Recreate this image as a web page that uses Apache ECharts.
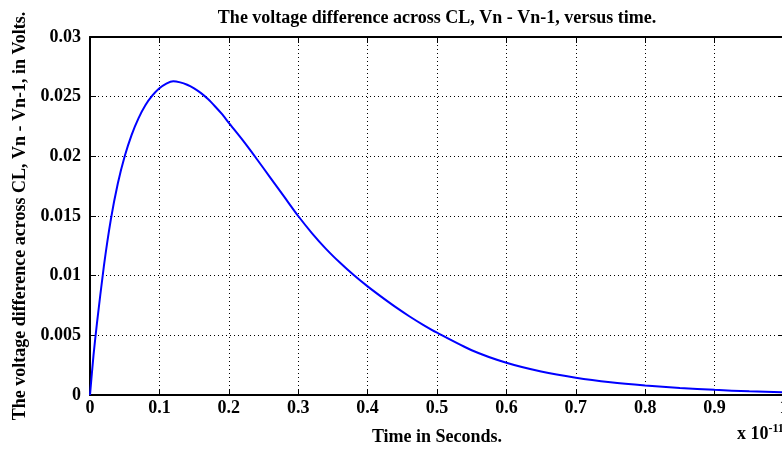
<!DOCTYPE html>
<html>
<head>
<meta charset="utf-8">
<script src="https://cdn.jsdelivr.net/npm/echarts@6/dist/echarts.min.js"></script>
<style>
html,body{margin:0;padding:0;background:#fff;}
#chart{width:782px;height:450px;}
</style>
</head>
<body>
<div id="chart"></div>
<script>
// Time values (units of 1e-11 s) and voltage difference (V)
var timeVals = [0, 0.005, 0.01, 0.02, 0.03, 0.04, 0.05, 0.06, 0.07, 0.08, 0.09, 0.10, 0.11, 0.12, 0.13, 0.14, 0.15, 0.16, 0.17, 0.18, 0.19, 0.20, 0.22, 0.24, 0.26, 0.28, 0.30, 0.32, 0.34, 0.36, 0.38, 0.40, 0.42, 0.44, 0.46, 0.48, 0.50, 0.55, 0.60, 0.65, 0.70, 0.75, 0.80, 0.85, 0.90, 0.95, 1.00];
var voltVals = [0, 0.0033, 0.0060, 0.0108, 0.0147, 0.0177, 0.0200, 0.0218, 0.0232, 0.0243, 0.0251, 0.0257, 0.0261, 0.0263, 0.0262, 0.0260, 0.0257, 0.0253, 0.0248, 0.0242, 0.02355, 0.0228, 0.02135, 0.0198, 0.0182, 0.0166, 0.0150, 0.01355, 0.01225, 0.0111, 0.01005, 0.0091, 0.00822, 0.00738, 0.0066, 0.00588, 0.00522, 0.00375, 0.0027, 0.00197, 0.00145, 0.00107, 0.00080, 0.00059, 0.00043, 0.00031, 0.00023];
var xTickLabels = ['0', '0.1', '0.2', '0.3', '0.4', '0.5', '0.6', '0.7', '0.8', '0.9', '1'];
var yTickLabels = ['0', '0.005', '0.01', '0.015', '0.02', '0.025', '0.03'];

var titleText = 'The voltage difference across CL, Vn - Vn-1, versus time.';
var xName = 'Time in Seconds.';
var yName = 'The voltage difference across CL, Vn - Vn-1, in Volts.';

var FONT = "'Liberation Serif','Times New Roman',serif";
var data = timeVals.map(function (t, i) { return [t, voltVals[i]]; });

function xFmt(v) { var i = Math.round(v * 10); return xTickLabels[i] !== undefined ? xTickLabels[i] : ''; }
function yFmt(v) { var i = Math.round(v / 0.005); return yTickLabels[i] !== undefined ? yTickLabels[i] : ''; }

var labelStyle = { color: '#000', fontFamily: FONT, fontWeight: 'bold', fontSize: 18 };
var gridLine = { show: true, lineStyle: { color: '#000', width: 1, type: [1, 3] } };

var chart = echarts.init(document.getElementById('chart'), null, { renderer: 'canvas' });
chart.setOption({
  backgroundColor: '#fff',
  animation: false,
  grid: { left: 90, top: 37, width: 694, bottom: 55, containLabel: false, outerBoundsMode: 'none' },
  xAxis: [{
    type: 'value', min: 0, max: 1, interval: 0.1, position: 'bottom',
    axisLine: { show: true, onZero: false, lineStyle: { color: '#000', width: 2 } },
    axisTick: { show: true, inside: true, length: 6, lineStyle: { color: '#000', width: 1 } },
    axisLabel: Object.assign({ margin: 4, formatter: xFmt, hideOverlap: false }, labelStyle),
    splitLine: gridLine,
    name: xName, nameLocation: 'middle', nameGap: 33,
    nameTextStyle: { color: '#000', fontFamily: FONT, fontWeight: 'bold', fontSize: 18 }
  }, {
    type: 'value', min: 0, max: 1, interval: 0.1, position: 'top',
    axisLine: { show: true, onZero: false, lineStyle: { color: '#000', width: 2 } },
    axisTick: { show: true, inside: true, length: 6, lineStyle: { color: '#000', width: 1 } },
    axisLabel: { show: false }, splitLine: { show: false }
  }],
  yAxis: [{
    type: 'value', min: 0, max: 0.03, interval: 0.005, position: 'left',
    axisLine: { show: true, onZero: false, lineStyle: { color: '#000', width: 2 } },
    axisTick: { show: true, inside: true, length: 6, lineStyle: { color: '#000', width: 1 } },
    axisLabel: Object.assign({ margin: 9, formatter: yFmt }, labelStyle),
    splitLine: gridLine,
    name: yName, nameLocation: 'middle', nameGap: 61, nameRotate: 90,
    nameTextStyle: { color: '#000', fontFamily: FONT, fontWeight: 'bold', fontSize: 18 }
  }, {
    type: 'value', min: 0, max: 0.03, interval: 0.005, position: 'right',
    axisLine: { show: true, onZero: false, lineStyle: { color: '#000', width: 2 } },
    axisTick: { show: true, inside: true, length: 6, lineStyle: { color: '#000', width: 1 } },
    axisLabel: { show: false }, splitLine: { show: false }
  }],
  series: [{
    type: 'line', data: data, xAxisIndex: 0, yAxisIndex: 0,
    smooth: 0.25, showSymbol: false, symbol: 'none',
    lineStyle: { color: '#0000ff', width: 2 }, clip: true
  }],
  graphic: [
    { type: 'text', x: 437, y: 18, style: { text: titleText, align: 'center', verticalAlign: 'middle', fill: '#000', font: "bold 18px 'Liberation Serif','Times New Roman',serif" } },
    { type: 'text', x: 737, y: 434, style: {
        text: 'x 10{sup|-11}', verticalAlign: 'middle', fill: '#000',
        font: "bold 18px 'Liberation Serif','Times New Roman',serif",
        rich: { sup: { fontSize: 12, fontWeight: 'bold', fontFamily: FONT, fill: '#000', verticalAlign: 'top', padding: [0, 0, 10, 0] } }
      } }
  ]
});
</script>
</body>
</html>
